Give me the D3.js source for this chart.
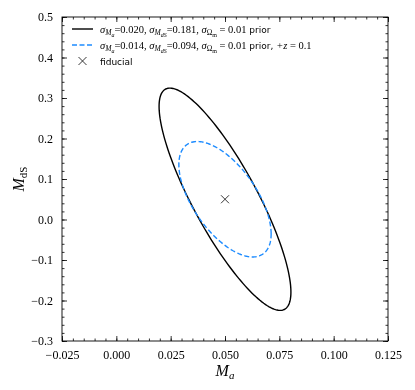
<!DOCTYPE html>
<html>
<head lang="en">
    <meta charset="UTF-8">
    <title></title>
    <script src="https://cdn.jsdelivr.net/npm/d3@7"></script>
    <style>
        *{
            margin: 0;
            padding: 0;
        }
        body{background:#fff;}
    </style>
</head>
<body>
<div id="mychart" style="width:415px;height:390px;position:fixed;left:0;top:0"></div>
<script>
    // axis ticks
    var xTicks = [-0.025, 0.000, 0.025, 0.050, 0.075, 0.100, 0.125];
    var yTicks = [-0.3, -0.2, -0.1, 0.0, 0.1, 0.2, 0.3, 0.4, 0.5];
    // forecast errors of the two cases
    var sigmaMa  = [0.020, 0.014];
    var sigmaMdS = [0.181, 0.094];
    var corr     = [-0.835, -0.6];
    var lineColors = ["#000000", "#1e8cff"];
    var lineDash   = [null, "5,2.5"];
    // fiducial point
    var fiducial = [0.05, 0.05];
    // legend labels: [text, level(0 normal,1 sub,2 subsub), style]
    var legendLabels = [
        [["σ",0,"i"],["M",1,"i"],["a",2,"i"],["=0.020, ",0,"r"],["σ",0,"i"],["M",1,"i"],["dS",2,"i"],["=0.181, ",0,"r"],
         ["σ",0,"i"],["Ω",1,"r"],["m",2,"r"],[" = 0.01",0,"r"],[" prior",0,"s"]],
        [["σ",0,"i"],["M",1,"i"],["a",2,"i"],["=0.014, ",0,"r"],["σ",0,"i"],["M",1,"i"],["dS",2,"i"],["=0.094, ",0,"r"],
         ["σ",0,"i"],["Ω",1,"r"],["m",2,"r"],[" = 0.01",0,"r"],[" prior, ",0,"s"],["+z",0,"i"],[" = 0.1",0,"r"]],
        [["fiducial",0,"s"]]
    ];
    // 68% 2D contour scale
    var deltaChi2 = 2.30;

    var serif = "'Liberation Serif','DejaVu Serif',serif";
    var sans = "'DejaVu Sans',sans-serif";

    drawChart("mychart");

    function drawChart(divname){
        var _swidth = 415, _sheight = 390;
        //绘图区位置
        var _margin = {top:17, left:62, right:27, bottom:49};
        var _w = _swidth - _margin.left - _margin.right;
        var _h = _sheight - _margin.top - _margin.bottom;

        var _svg = d3.select("#"+divname).append("svg")
                .attr("width", _swidth).attr("height", _sheight);
        var _g = _svg.append("g")
                .attr("transform","translate("+_margin.left+","+_margin.top+")");

        var _xscale = d3.scaleLinear().domain([-0.025, 0.125]).range([0, _w]);
        var _yscale = d3.scaleLinear().domain([-0.3, 0.5]).range([_h, 0]);

        var xMinor = d3.range(-0.025, 0.1251, 0.005);
        var yMinor = d3.range(-0.3, 0.5001, 0.02);
        var fmtX = d3.format(".3f"), fmtY = d3.format(".1f");

        // 刻度（向内）
        function styleAxis(sel){
            sel.select(".domain").remove();
            sel.selectAll("line").attr("stroke","#000").attr("stroke-width",0.8);
            sel.selectAll("text").style("font-family",serif).style("font-size","12px").attr("fill","#000");
        }
        // bottom
        _g.append("g").attr("transform","translate(0,"+_h+")")
            .call(d3.axisBottom(_xscale).tickValues(xMinor).tickSize(-2.5).tickFormat(""))
            .call(styleAxis);
        _g.append("g").attr("transform","translate(0,"+_h+")")
            .call(d3.axisBottom(_xscale).tickValues(xTicks).tickSize(-5).tickPadding(9).tickFormat(fmtX))
            .call(styleAxis);
        // top
        _g.append("g")
            .call(d3.axisTop(_xscale).tickValues(xMinor).tickSize(-2.5).tickFormat(""))
            .call(styleAxis);
        _g.append("g")
            .call(d3.axisTop(_xscale).tickValues(xTicks).tickSize(-5).tickFormat(""))
            .call(styleAxis);
        // left
        _g.append("g")
            .call(d3.axisLeft(_yscale).tickValues(yMinor).tickSize(-2.5).tickFormat(""))
            .call(styleAxis);
        _g.append("g")
            .call(d3.axisLeft(_yscale).tickValues(yTicks).tickSize(-5).tickPadding(9).tickFormat(fmtY))
            .call(styleAxis);
        // right
        _g.append("g").attr("transform","translate("+_w+",0)")
            .call(d3.axisRight(_yscale).tickValues(yMinor).tickSize(-2.5).tickFormat(""))
            .call(styleAxis);
        _g.append("g").attr("transform","translate("+_w+",0)")
            .call(d3.axisRight(_yscale).tickValues(yTicks).tickSize(-5).tickFormat(""))
            .call(styleAxis);

        // 椭圆
        var _k = Math.sqrt(deltaChi2);
        var _line = d3.line()
                .x(function(d){ return _xscale(d[0]); })
                .y(function(d){ return _yscale(d[1]); });
        for (var s = 0; s < sigmaMa.length; s++){
            var sx = sigmaMa[s], sy = sigmaMdS[s], r = corr[s];
            var pts = d3.range(0, 361, 2).map(function(a){
                var t = a * Math.PI / 180;
                // Cholesky form of the covariance
                var u = Math.cos(t), v = Math.sin(t);
                return [fiducial[0] + _k*sx*u,
                        fiducial[1] + _k*sy*(r*u + Math.sqrt(1-r*r)*v)];
            });
            _g.append("path")
                .attr("d", _line(pts))
                .attr("fill","none")
                .attr("stroke", lineColors[s])
                .attr("stroke-width", 1.4)
                .attr("stroke-dasharray", lineDash[s]);
        }

        // fiducial cross
        drawCross(_g, _xscale(fiducial[0]), _yscale(fiducial[1]));

        // 边框
        _g.append("rect").attr("width",_w).attr("height",_h)
            .attr("fill","none").attr("stroke","#000").attr("stroke-width",0.9);

        // axis labels
        var xl = _svg.append("text")
            .attr("x", _margin.left + _w/2).attr("y", 376)
            .attr("text-anchor","middle")
            .style("font-family",serif).style("font-size","16px").style("font-style","italic");
        xl.append("tspan").text("M");
        xl.append("tspan").attr("dy",3).style("font-size","11px").text("a");

        var yl = _svg.append("text")
            .attr("transform","translate(24,"+(_margin.top+_h/2)+") rotate(-90)")
            .attr("text-anchor","middle")
            .style("font-family",serif).style("font-size","16px");
        yl.append("tspan").style("font-style","italic").text("M");
        yl.append("tspan").attr("dy",3).style("font-size","11px").text("dS");

        // legend
        var _leg = _svg.append("g").attr("transform","translate(72,29)");
        for (var i = 0; i < legendLabels.length; i++){
            var row = _leg.append("g").attr("transform","translate(0,"+(i*16)+")");
            if (i < 2){
                row.append("line").attr("x1",0).attr("x2",21).attr("y1",0).attr("y2",0)
                    .attr("stroke", lineColors[i]).attr("stroke-width",1.4)
                    .attr("stroke-dasharray", lineDash[i]);
            } else {
                drawCross(row, 10.5, 0);
            }
            richText(row.append("text").attr("x",28).attr("y",3.5), legendLabels[i]);
        }
    }

    function drawCross(g, cx, cy){
        var h = 4;
        g.append("path")
            .attr("d","M"+(cx-h)+","+(cy-h)+"L"+(cx+h)+","+(cy+h)+"M"+(cx-h)+","+(cy+h)+"L"+(cx+h)+","+(cy-h))
            .attr("stroke","#222").attr("stroke-width",0.9).attr("fill","none");
    }

    function richText(t, parts){
        var sizes = [10.5, 7.5, 6], shift = [0, 2.5, 4];
        var cur = 0;
        parts.forEach(function(p){
            var lvl = p[1];
            t.append("tspan").text(p[0])
                .attr("dy", shift[lvl] - cur)
                .style("font-size", (p[2]=="s" ? 9 : sizes[lvl]) + "px")
                .style("font-family", p[2]=="s" ? sans : serif)
                .style("font-style", p[2]=="i" ? "italic" : "normal")
                .style("white-space","pre");
            cur = shift[lvl];
        });
    }
</script>
</body>
</html>
